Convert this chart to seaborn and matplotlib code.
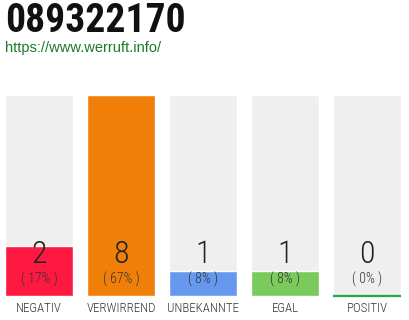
import matplotlib
matplotlib.use("Agg")
import matplotlib.pyplot as plt
import matplotlib.transforms as mtrans
import seaborn as sns
import pandas as pd

title = "089322170"
subtitle = "https://www.werruft.info/"
categories = ["NEGATIV", "VERWIRREND", "UNBEKANNTE", "EGAL", "POSITIV"]
counts = [2, 8, 1, 1, 0]
percents = ["( 17% )", "( 67% )", "( 8% )", "( 8% )", "( 0% )"]
colors = ["#FF1940", "#F07F0A", "#6699EE", "#7ACB5C", "#22AA44"]

sns.set_theme(style="white")
COND = ["Roboto Condensed", "Liberation Sans Narrow", "DejaVu Sans"]
plt.rcParams["font.family"] = COND

W, H = 410, 320
fig = plt.figure(figsize=(W / 100, H / 100), dpi=100)
fig.patch.set_facecolor("white")

left, right, top, bottom = 5, 401, 95, 296
ax = fig.add_axes([left / W, (H - bottom) / H, (right - left) / W, (bottom - top) / H])

df = pd.DataFrame({"cat": categories, "n": counts})
maxv = max(counts)
bg = pd.DataFrame({"cat": categories, "n": [maxv] * len(categories)})
bw = 68 / 82
sns.barplot(data=bg, x="cat", y="n", color="#EFEFEF", width=bw, ax=ax, saturation=1)
sns.barplot(data=df, x="cat", y="n", hue="cat", palette=colors, width=bw, ax=ax,
            saturation=1, legend=False)

half = 34 / 82
ax.set_xlim(-half, len(categories) - 1 + half)
ax.set_ylim(0, maxv)
for s in ax.spines.values():
    s.set_visible(False)
ax.set_xticks([])
ax.set_yticks([])
ax.set_xlabel("")
ax.set_ylabel("")

for i, v in enumerate(counts):
    if v == 0:
        ax.plot([i - bw / 2, i + bw / 2], [0, 0], color=colors[i], lw=1.6,
                solid_capstyle="butt", clip_on=False)

trans = ax.get_xaxis_transform()
def off(px):
    return trans + mtrans.ScaledTranslation(0, px / 100, fig.dpi_scale_trans)

for i, (c, p, lab) in enumerate(zip(counts, percents, categories)):
    ax.text(i, 0, str(c), transform=off(33), ha="center", va="baseline",
            fontsize=23, color="#222222", fontweight="light")
    ax.text(i, 0, p, transform=off(12), ha="center", va="baseline",
            fontsize=10, color="#333333", fontweight="light")
    ax.text(i, 0, lab, transform=off(-16), ha="center", va="baseline",
            fontsize=9.3, color="#333333", fontweight="light")

fig.text(5 / W, 1 - 32 / H, title, ha="left", va="baseline", fontsize=28.5,
         fontweight="bold", color="#111111", family=COND)
fig.text(5 / W, 1 - 52 / H, subtitle, ha="left", va="baseline", fontsize=10.5,
         color="#1A7A2A", family=["Liberation Sans", "DejaVu Sans"])

fig.savefig("out.png", dpi=100, facecolor="white")
